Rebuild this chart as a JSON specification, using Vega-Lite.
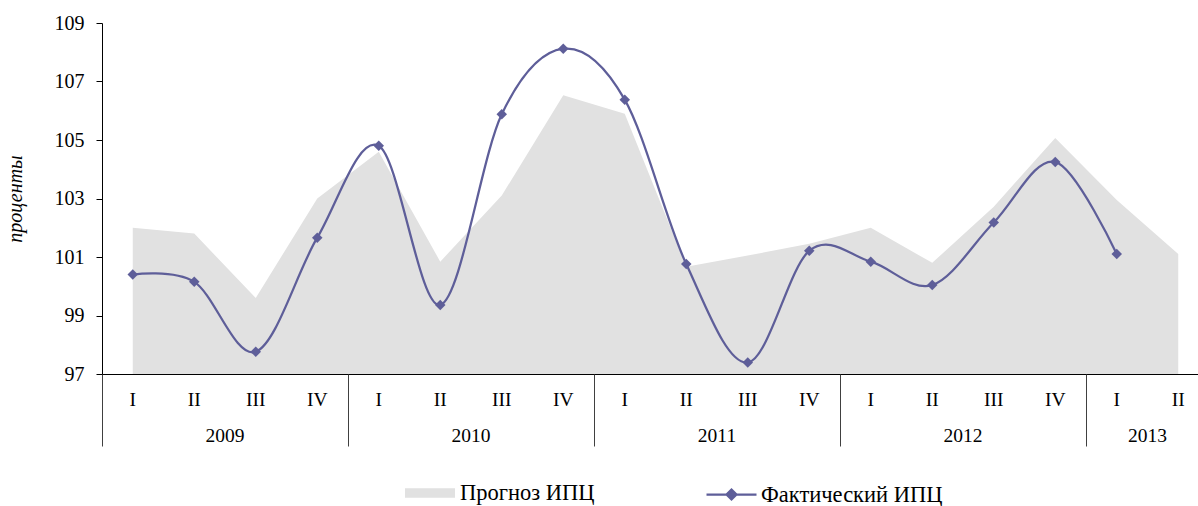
{
  "$schema": "https://vega.github.io/schema/vega-lite/v6.json",
  "width": 1096,
  "height": 351,
  "autosize": {"type": "none"},
  "padding": {"left": 102, "top": 23, "right": 0, "bottom": 132},
  "config": {
    "view": {"stroke": null},
    "font": "Liberation Serif",
    "axis": {"grid": false, "labelColor": "#000", "labelFont": "Liberation Serif", "labelFontSize": 19.5, "domainColor": "#000", "tickColor": "#000", "labelAngle": 0, "labelOverlap": false}
  },
  "data": {
    "values": [
      {"q": "2009-I", "forecast": 102.0, "actual": 100.4},
      {"q": "2009-II", "forecast": 101.8, "actual": 100.15},
      {"q": "2009-III", "forecast": 99.6, "actual": 97.76},
      {"q": "2009-IV", "forecast": 103.0, "actual": 101.66},
      {"q": "2010-I", "forecast": 104.6, "actual": 104.8},
      {"q": "2010-II", "forecast": 100.84, "actual": 99.36},
      {"q": "2010-III", "forecast": 103.1, "actual": 105.88},
      {"q": "2010-IV", "forecast": 106.53, "actual": 108.12},
      {"q": "2011-I", "forecast": 105.9, "actual": 106.38},
      {"q": "2011-II", "forecast": 100.67, "actual": 100.76},
      {"q": "2011-III", "forecast": 101.05, "actual": 97.39},
      {"q": "2011-IV", "forecast": 101.45, "actual": 101.21},
      {"q": "2012-I", "forecast": 102.0, "actual": 100.84},
      {"q": "2012-II", "forecast": 100.8, "actual": 100.04},
      {"q": "2012-III", "forecast": 102.72, "actual": 102.18},
      {"q": "2012-IV", "forecast": 105.07, "actual": 104.25},
      {"q": "2013-I", "forecast": 102.95, "actual": 101.1},
      {"q": "2013-II", "forecast": 101.1, "actual": null}
    ]
  },
  "layer": [
    {
      "mark": {"type": "area", "color": "#E1E1E1"},
      "encoding": {
        "x": {
          "field": "q", "type": "nominal", "sort": null, "bandPosition": 0.5,
          "scale": {"type": "band", "paddingInner": 0, "paddingOuter": 0, "range": [0, 1107]},
          "axis": {"orient": "bottom", "title": null, "labelExpr": "split(datum.value,'-')[1]", "ticks": false, "tickSize": 0, "labelPadding": 16, "domain": true, "domainColor": "#000"}
        },
        "y": {
          "field": "forecast", "type": "quantitative",
          "scale": {"domain": [97, 109], "zero": false, "nice": false},
          "axis": {"title": "проценты", "titleFont": "Liberation Serif", "titleFontSize": 20, "titleFontStyle": "italic", "titleFontWeight": "normal", "titleColor": "#000", "titlePadding": 29, "values": [97, 99, 101, 103, 105, 107, 109], "tickSize": 6, "labelPadding": 12, "labelFontSize": 20}
        },
        "y2": {"datum": 97},
        "fill": {
          "datum": "Прогноз ИПЦ",
          "scale": {"range": ["#E1E1E1"]},
          "legend": {"orient": "none", "legendX": 303, "legendY": 445, "title": null, "padding": 0, "symbolType": "M-1,-0.19H1V0.19H-1Z", "symbolSize": 2500, "symbolStrokeWidth": 0, "labelFont": "Liberation Serif", "labelFontSize": 22.5, "labelColor": "#000", "labelOffset": 5, "labelLimit": 400}
        }
      }
    },
    {
      "mark": {"type": "line", "interpolate": "cardinal", "strokeWidth": 2.25},
      "encoding": {
        "x": {
          "field": "q", "type": "nominal", "sort": null, "bandPosition": 0.5,
          "axis": {"orient": "bottom", "title": null, "values": ["2009-II", "2010-II", "2011-II", "2012-II", "2013-I"], "labelExpr": "split(datum.value,'-')[0]", "labelOffset": 30.75, "ticks": false, "tickSize": 0, "labelPadding": 52, "domain": false}
        },
        "y": {
          "field": "actual", "type": "quantitative",
          "axis": {"title": "проценты", "titleFont": "Liberation Serif", "titleFontSize": 20, "titleFontStyle": "italic", "titleFontWeight": "normal", "titleColor": "#000", "titlePadding": 29, "values": [97, 99, 101, 103, 105, 107, 109], "tickSize": 6, "labelPadding": 12, "labelFontSize": 20}
        },
        "stroke": {
          "datum": "Фактический ИПЦ",
          "scale": {"range": ["#5E5E99"]},
          "legend": {"orient": "none", "legendX": 603, "legendY": 445, "title": null, "padding": 0, "symbolType": "M-1,0H1M-0.2,0L0,-0.2L0.2,0L0,0.2Z", "symbolSize": 2500, "symbolStrokeWidth": 2.25, "symbolFillColor": "#5E5E99", "labelFont": "Liberation Serif", "labelFontSize": 22.5, "labelColor": "#000", "labelOffset": 3, "labelLimit": 400,
            "encode": {"symbols": {"update": {"fill": {"value": "#5E5E99"}, "stroke": {"value": "#5E5E99"}}}}}
        }
      }
    },
    {
      "mark": {"type": "point", "shape": "diamond", "filled": true, "size": 110, "color": "#5E5E99", "opacity": 1},
      "encoding": {
        "x": {
          "field": "q", "type": "nominal", "sort": null, "bandPosition": 0.5,
          "axis": {"orient": "bottom", "title": null, "values": ["2009-I", "2010-I", "2011-I", "2012-I", "2013-I"], "bandPosition": 0, "labels": false, "ticks": true, "tickSize": 72, "tickColor": "#404040", "domain": false}
        },
        "y": {
          "field": "actual", "type": "quantitative",
          "axis": {"title": "проценты", "titleFont": "Liberation Serif", "titleFontSize": 20, "titleFontStyle": "italic", "titleFontWeight": "normal", "titleColor": "#000", "titlePadding": 29, "values": [97, 99, 101, 103, 105, 107, 109], "tickSize": 6, "labelPadding": 12, "labelFontSize": 20}
        }
      }
    }
  ],
  "resolve": {"axis": {"x": "independent"}}
}
